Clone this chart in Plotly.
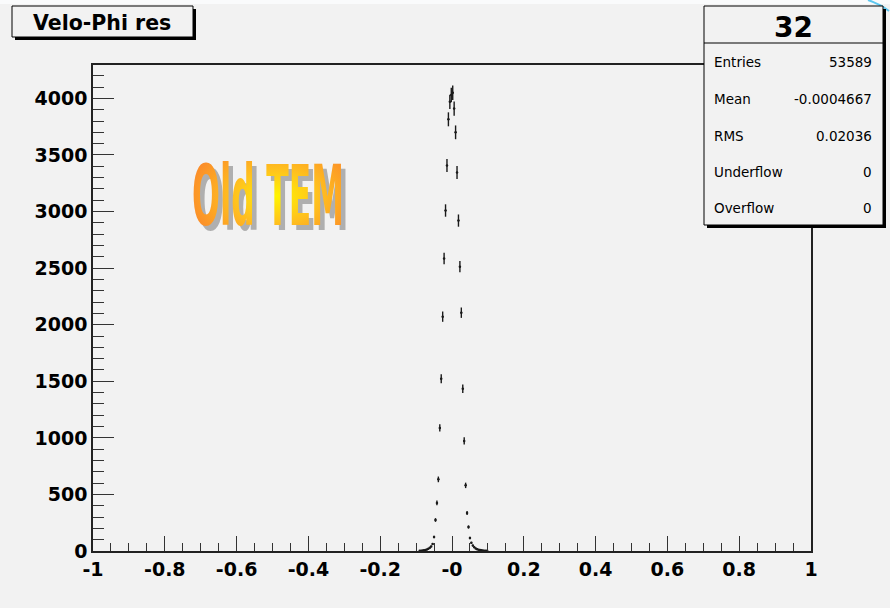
import math
import plotly.graph_objects as go

# Velo-Phi residual histogram: 500 bins on [-1, 1]; only non-empty bins are listed
BIN_WIDTH = 0.004
bin_centers = [
    -0.090, -0.086, -0.082, -0.078, -0.074, -0.070, -0.066, -0.062, -0.058, -0.054,
    -0.050, -0.046, -0.042, -0.038, -0.034, -0.030, -0.026, -0.022, -0.018, -0.014,
    -0.010, -0.006, -0.002, 0.002, 0.006, 0.010, 0.014, 0.018, 0.022, 0.026,
    0.030, 0.034, 0.038, 0.042, 0.046, 0.050, 0.054, 0.058, 0.062, 0.066,
    0.070, 0.074, 0.078, 0.082, 0.086, 0.090, 0.094, 0.098,
]
bin_counts = [
    2, 3, 4, 6, 9, 13, 19, 28, 40, 62,
    124, 274, 425, 633, 1088, 1522, 2071, 2584, 3009, 3407,
    3815, 3970, 4030, 4050, 3910, 3700, 3345, 2920, 2513, 2106,
    1434, 973, 580, 336, 212, 115, 72, 48, 33, 23,
    16, 12, 8, 6, 4, 3, 2, 2,
]

x_tick_vals = [-1, -0.8, -0.6, -0.4, -0.2, 0, 0.2, 0.4, 0.6, 0.8, 1]
x_tick_text = ["-1", "-0.8", "-0.6", "-0.4", "-0.2", "-0", "0.2", "0.4", "0.6", "0.8", "1"]

hist_title = "Velo-Phi res"
stats_header = "32"
stats_labels = ["Entries", "Mean", "RMS", "Underflow", "Overflow"]
stats_values = ["53589", "-0.0004667", "0.02036", "0", "0"]
overlay_text = "Old TEM"

# frame geometry in pixels (890 x 608 canvas)
W, H = 890, 608
L, R, T, B = 93, 811, 65, 551
BG = "#f2f2f2"


def fx(px):
    return (px - L) / (R - L)


def fy(py):
    return (B - py) / (B - T)


fig = go.Figure()
fig.add_trace(go.Scatter(
    x=bin_centers,
    y=bin_counts,
    mode="markers",
    marker=dict(color="#1a1a1a", size=2.5),
    error_y=dict(type="data", array=[math.sqrt(c) for c in bin_counts],
                 color="#1a1a1a", thickness=1.4, width=0),
    error_x=dict(type="constant", value=BIN_WIDTH / 2,
                 color="#1a1a1a", thickness=1.2, width=0),
    hoverinfo="x+y",
    showlegend=False,
))

tick_font = dict(family="DejaVu Sans", size=19, color="black", weight="bold")

fig.update_xaxes(
    range=[-1, 1],
    tickmode="array", tickvals=x_tick_vals, ticktext=x_tick_text,
    ticks="inside", ticklen=15, tickwidth=1, tickcolor="#333333",
    minor=dict(ticks="inside", ticklen=8, tickwidth=1, tickcolor="#333333",
               tick0=-1, dtick=0.05),
    showline=True, linecolor="#222222", linewidth=1.5, mirror=True,
    showgrid=False, zeroline=False,
    tickfont=tick_font,
)
fig.update_yaxes(
    range=[0, 4295],
    tickmode="linear", tick0=0, dtick=500,
    ticks="inside", ticklen=21, tickwidth=1, tickcolor="#333333",
    minor=dict(ticks="inside", ticklen=11, tickwidth=1, tickcolor="#333333",
               tick0=0, dtick=100),
    showline=True, linecolor="#222222", linewidth=1.5, mirror=True,
    showgrid=False, zeroline=False,
    tickfont=tick_font,
)

shapes = [
    # pale band along the top edge and the blue arc in the corner
    dict(type="rect", xref="paper", yref="paper", layer="below",
         x0=fx(0), x1=fx(W), y0=fy(0), y1=fy(4),
         fillcolor="#fafbfc", line=dict(width=0)),
    dict(type="path", xref="paper", yref="paper", layer="above",
         path=f"M {fx(868)},{fy(0)} Q {fx(880)},{fy(4)} {fx(889)},{fy(11)}",
         line=dict(color="#5ec8f0", width=2)),
    # title box with drop shadow
    dict(type="rect", xref="paper", yref="paper", layer="above",
         x0=fx(15), x1=fx(196), y0=fy(9), y1=fy(40),
         fillcolor="black", line=dict(width=0)),
    dict(type="rect", xref="paper", yref="paper", layer="above",
         x0=fx(12), x1=fx(193), y0=fy(6), y1=fy(37),
         fillcolor=BG, line=dict(color="black", width=1)),
    # statistics box with drop shadow
    dict(type="rect", xref="paper", yref="paper", layer="above",
         x0=fx(707), x1=fx(886), y0=fy(9), y1=fy(228),
         fillcolor="black", line=dict(width=0)),
    dict(type="rect", xref="paper", yref="paper", layer="above",
         x0=fx(704), x1=fx(883), y0=fy(6), y1=fy(225),
         fillcolor=BG, line=dict(color="black", width=1)),
    dict(type="line", xref="paper", yref="paper", layer="above",
         x0=fx(704), x1=fx(883), y0=fy(43), y1=fy(43),
         line=dict(color="black", width=1)),
]

annotations = [
    dict(text=hist_title, x=fx(102), y=fy(23), xref="paper", yref="paper",
         xanchor="center", yanchor="middle", showarrow=False,
         font=dict(family="DejaVu Sans", size=20.5, color="black", weight="bold")),
    dict(text=stats_header, x=fx(793), y=fy(27), xref="paper", yref="paper",
         xanchor="center", yanchor="middle", showarrow=False,
         font=dict(family="DejaVu Sans", size=28, color="black", weight="bold")),
    # overlay label with a grey drop shadow
    dict(text=overlay_text, x=fx(268), y=fy(196), xref="paper", yref="paper",
         xanchor="center", yanchor="middle", showarrow=False,
         font=dict(family="DejaVu Sans", size=84, color="#fb9a2a", weight="bold",
                   shadow="9px 4px 0px rgb(175, 175, 175)")),
]
row_y = [62, 99, 135.5, 171.5, 208]
for label, value, py in zip(stats_labels, stats_values, row_y):
    annotations.append(dict(text=label, x=fx(712), y=fy(py), xref="paper", yref="paper",
                            xanchor="left", yanchor="middle", showarrow=False,
                            font=dict(family="DejaVu Sans", size=13.5, color="black")))
    annotations.append(dict(text=value, x=fx(874), y=fy(py), xref="paper", yref="paper",
                            xanchor="right", yanchor="middle", showarrow=False,
                            font=dict(family="DejaVu Sans", size=13.5, color="black")))

fig.update_layout(
    width=W, height=H,
    margin=dict(l=L, r=W - R, t=T, b=H - B, pad=0),
    paper_bgcolor=BG, plot_bgcolor=BG,
    shapes=shapes, annotations=annotations,
    showlegend=False,
)

# squeeze the overlay label horizontally and give it a radial orange/yellow fill
post_js = """
var gd = document.getElementById('{plot_id}');
function styleOverlay(){
  var svg = gd.querySelector('svg.main-svg');
  if(!svg) return;
  var ns = 'http://www.w3.org/2000/svg';
  if(!document.getElementById('overlay-fill')){
    var defs = svg.querySelector('defs');
    var g = document.createElementNS(ns, 'radialGradient');
    g.setAttribute('id', 'overlay-fill');
    g.setAttribute('cx', '0.55'); g.setAttribute('cy', '0.5'); g.setAttribute('r', '0.6');
    [['0', '#fff500'], ['0.45', '#ffc21e'], ['1', '#fb8a2a']].forEach(function(s){
      var st = document.createElementNS(ns, 'stop');
      st.setAttribute('offset', s[0]); st.setAttribute('stop-color', s[1]);
      g.appendChild(st);
    });
    defs.appendChild(g);
  }
  gd.querySelectorAll('text.annotation-text').forEach(function(t){
    if(t.textContent !== 'Old TEM') return;
    var b = t.getBBox();
    var cx = b.x + b.width / 2, cy = b.y + b.height / 2;
    var sx = 152 / b.width;
    t.setAttribute('transform', 'translate(' + cx + ',' + cy + ') scale(' + sx + ',1) translate(' + (-cx) + ',' + (-cy) + ')');
    t.style.fill = 'url(#overlay-fill)';
  });
}
styleOverlay();
gd.on && gd.on('plotly_afterplot', styleOverlay);
"""

fig.write_html("out.html", post_script=post_js)
